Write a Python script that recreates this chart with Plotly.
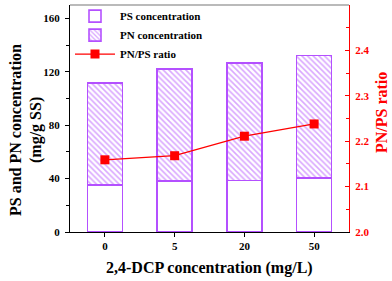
import plotly.graph_objects as go

categories = ["0", "5", "20", "50"]
ps_conc = [35.0, 38.0, 38.7, 40.5]
pn_conc = [76.7, 84.0, 87.8, 91.8]
ratio = [2.159, 2.168, 2.211, 2.238]

purple = "#b450ff"
red = "#ff0000"
font_fam = "Liberation Serif"

fig = go.Figure()
fig.add_trace(go.Bar(
    x=categories, y=ps_conc, name="PS concentration", width=0.5,
    marker=dict(color="white", line=dict(color=purple, width=1.6)),
))
fig.add_trace(go.Bar(
    x=categories, y=pn_conc, name="PN concentration", width=0.5,
    marker=dict(color="white", line=dict(color=purple, width=1.6),
                pattern=dict(shape="\\", fgcolor=purple, bgcolor="white",
                             size=4, solidity=0.4)),
))
fig.add_trace(go.Scatter(
    x=categories, y=ratio, name="PN/PS ratio", yaxis="y2",
    mode="lines+markers",
    line=dict(color=red, width=1.3),
    marker=dict(symbol="square", size=9, color=red),
))

fig.update_layout(
    width=392, height=281,
    margin=dict(l=70, r=43, t=5, b=49, autoexpand=False),
    barmode="stack",
    plot_bgcolor="white", paper_bgcolor="white",
    font=dict(family=font_fam, size=11, color="black", weight="bold"),
    showlegend=True,
    legend=dict(x=0.0, y=1.015, xanchor="left", yanchor="top",
                bgcolor="rgba(0,0,0,0)", font=dict(size=11, family=font_fam, weight="bold"),
                tracegroupgap=0, itemwidth=40, traceorder="normal"),
    xaxis=dict(
        range=[-0.5, 3.5], showline=True, linecolor="black", linewidth=1.2,
        ticks="outside", ticklen=4, tickcolor="black", automargin=False,
        minor=dict(ticks="outside", ticklen=3, tickcolor="black"),
        tickfont=dict(size=11, family=font_fam, weight="bold"),
    ),
    yaxis=dict(
        range=[0, 170], dtick=40, showline=True, linecolor="black", linewidth=1.2,
        ticks="outside", ticklen=4, tickcolor="black", showgrid=False, zeroline=False,
        automargin=False, ticklabelstandoff=3,
        minor=dict(dtick=20, ticks="outside", ticklen=3, tickcolor="black"),
        tickfont=dict(size=11, family=font_fam, weight="bold"),
    ),
    yaxis2=dict(
        range=[2.0, 2.5], dtick=0.1, overlaying="y", side="right",
        showline=True, linecolor=red, linewidth=1.2, color=red,
        ticks="inside", ticklen=4, tickcolor=red, showgrid=False, zeroline=False,
        tickformat=".1f", automargin=False, ticklabelstandoff=3,
        minor=dict(dtick=0.05, ticks="inside", ticklen=3, tickcolor=red),
        tickfont=dict(size=11, family=font_fam, weight="bold", color=red),
    ),
)
fig.add_shape(type="line", xref="paper", yref="paper", x0=0, x1=1, y0=1, y1=1,
              line=dict(color="#777777", width=1.2))

# axis titles as annotations (pixel-positioned)
def px_x(px):
    return (px - 70) / (392 - 70 - 43)

def px_y(py):
    return (281 - 49 - py) / (281 - 5 - 49)

title_font = dict(size=16, family=font_fam, weight="bold", color="black")
fig.add_annotation(text="2,4-DCP concentration (mg/L)", xref="paper", yref="paper",
                   x=px_x(209), y=px_y(268), showarrow=False,
                   xanchor="center", yanchor="middle", font=title_font)
fig.add_annotation(text="PS and PN concentration", xref="paper", yref="paper",
                   x=px_x(15), y=px_y(130), showarrow=False, textangle=-90,
                   xanchor="center", yanchor="middle", font=title_font)
fig.add_annotation(text="(mg/g SS)", xref="paper", yref="paper",
                   x=px_x(36), y=px_y(130), showarrow=False, textangle=-90,
                   xanchor="center", yanchor="middle", font=title_font)
fig.add_annotation(text="PN/PS ratio", xref="paper", yref="paper",
                   x=px_x(381), y=px_y(113), showarrow=False, textangle=-90,
                   xanchor="center", yanchor="middle",
                   font=dict(size=16, family=font_fam, weight="bold", color=red))

fig.write_html("out.html", config={"displayModeBar": False},
               post_script="document.body.style.margin='0';document.body.style.overflow='hidden';")
